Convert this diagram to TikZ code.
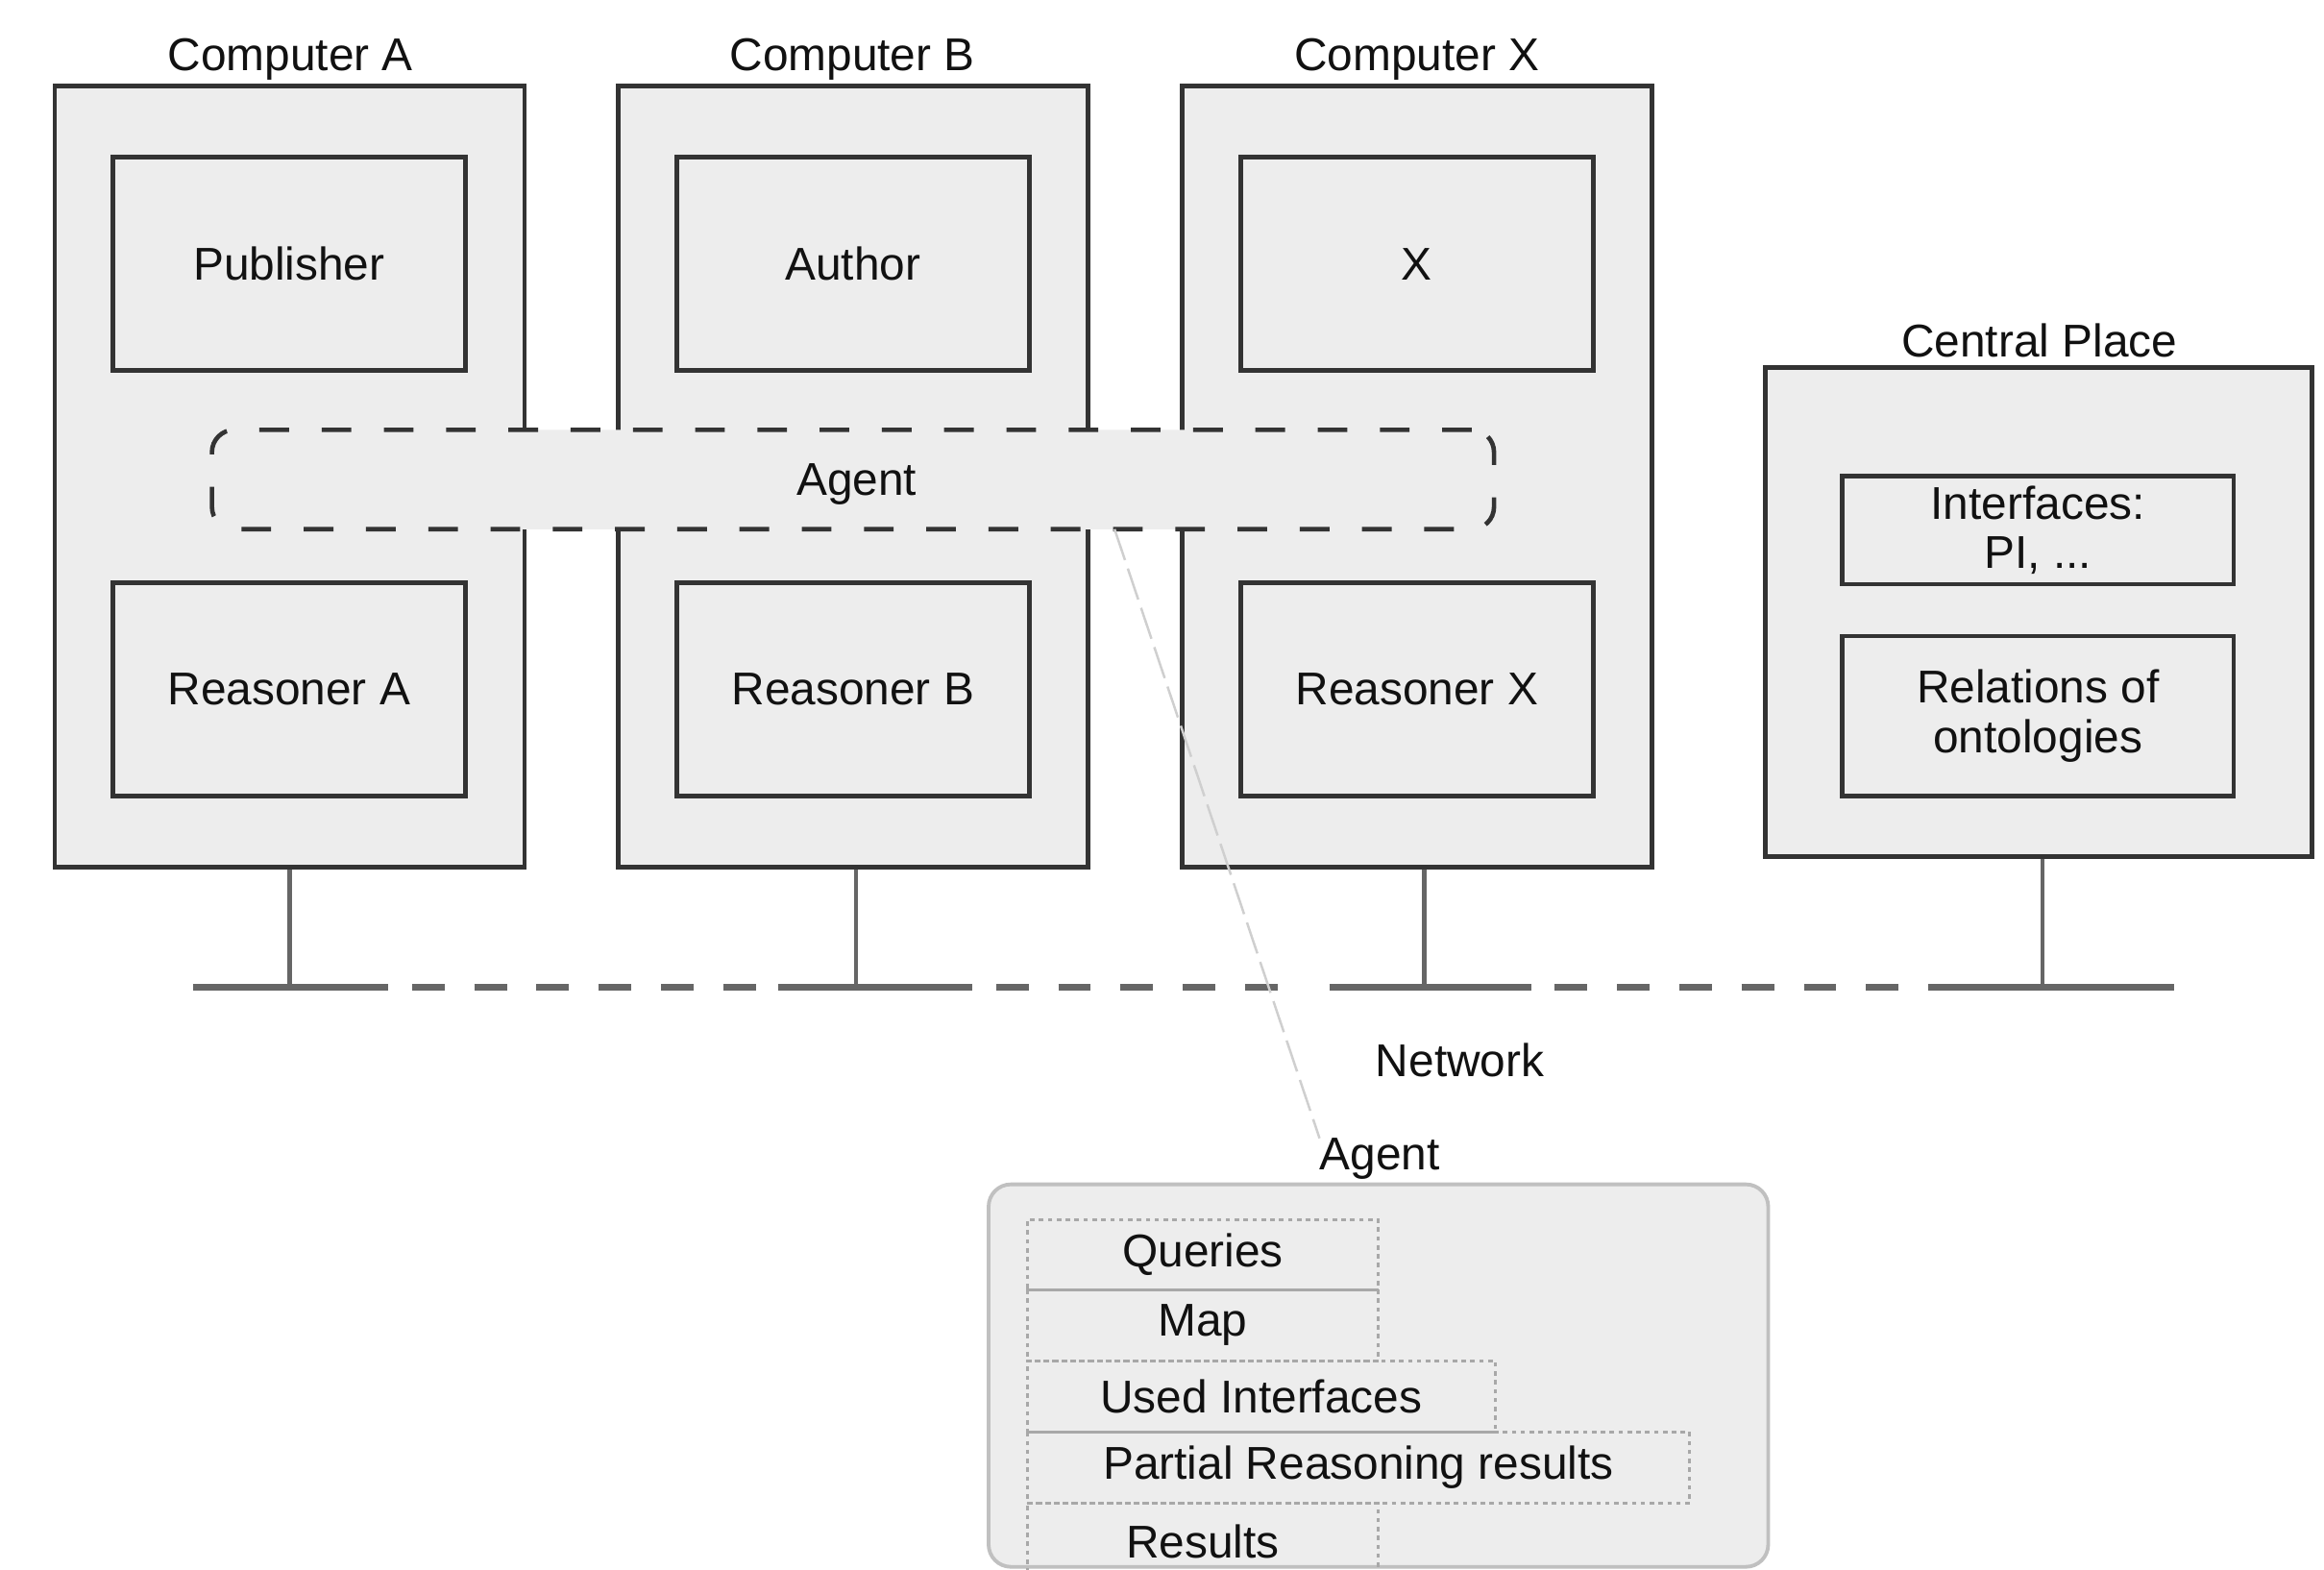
\documentclass[tikz,border=0pt]{standalone}
\usepackage{fontspec}
\setmainfont{Liberation Sans}
\definecolor{boxfill}{HTML}{EDEDED}
\definecolor{boxline}{HTML}{333333}
\definecolor{netcol}{HTML}{666666}
\definecolor{txtcol}{HTML}{111111}
\definecolor{agentline}{HTML}{C0C0C0}
\definecolor{dotcol}{HTML}{A8A8A8}
\definecolor{diagcol}{HTML}{CFCFCF}

\begin{document}
\begin{tikzpicture}[x=1pt,y=-1pt,
  every node/.style={font=\fontsize{31}{35}\selectfont, text=txtcol, inner sep=0pt, align=center},
  compbox/.style={draw=boxline, line width=3pt, fill=boxfill, minimum width=317pt, minimum height=527pt},
  innerbox/.style={draw=boxline, line width=3pt, fill=boxfill, minimum width=238pt, minimum height=144pt},
  cpbox/.style={draw=boxline, line width=3pt, fill=boxfill, minimum width=264pt},
  band/.style={draw=boxline, line width=3pt, fill=boxfill, dash pattern=on 20pt off 22pt, rounded corners=15pt, minimum width=865pt, minimum height=67pt},
  netsolid/.style={draw=netcol, line width=4.5pt},
  netdash/.style={draw=netcol, line width=4.5pt, dash pattern=on 22pt off 20pt},
  drop/.style={draw=netcol, line width=3pt},
  agentbox/.style={draw=agentline, line width=2.5pt, fill=boxfill, rounded corners=15pt, minimum width=526pt, minimum height=258pt},
  slot/.style={draw=dotcol, line width=1.8pt, dash pattern=on 3pt off 3pt, minimum height=48pt},
  diag/.style={draw=diagcol, line width=1.6pt, dash pattern=on 22pt off 6pt}
]
\useasboundingbox (0,0) rectangle (1568,1059);
\fill[white] (0,0) rectangle (1568,1059);
\clip (0,0) rectangle (1568,1059);

% computers
\node[compbox] (compA) at (195.5,321.5) {};
\node[compbox] (compB) at (575.5,321.5) {};
\node[compbox] (compX) at (956,321.5) {};
\node (lblA) at (196,40) {Computer A};
\node (lblB) at (575,40) {Computer B};
\node (lblX) at (956,40) {Computer X};

\node[innerbox] (pub) at (195,178) {Publisher};
\node[innerbox] (reaA) at (195,465) {Reasoner A};
\node[innerbox] (auth) at (575.5,178) {Author};
\node[innerbox] (reaB) at (575.5,465) {Reasoner B};
\node[innerbox] (xx) at (956,178) {X};
\node[innerbox] (reaX) at (956,465) {Reasoner X};

% agent band
\node[band] (band) at (575.5,323.5) {};
\node (bandlbl) at (578,327) {Agent};

% central place
\node[compbox, minimum width=369pt, minimum height=330pt] (central) at (1375.5,413) {};
\node (lblC) at (1376,230) {Central Place};
\node[cpbox, minimum height=73pt] (iface) at (1375,357.5) {Interfaces:\\[-2pt]PI, ...};
\node[cpbox, minimum height=108pt] (rel) at (1375,483) {Relations of\\[-1pt]ontologies};

% network
\coordinate (netL) at (130,666);
\coordinate (netR) at (1467,666);
\draw[drop] ([xshift=2pt]compB.south) -- ([xshift=2pt]compB.south |- netL);
\draw[drop] (compA.south) -- (compA.south |- netL);
\draw[drop] ([xshift=5pt]compX.south) -- ([xshift=5pt]compX.south |- netL);
\draw[drop] ([xshift=2.5pt]central.south) -- ([xshift=2.5pt]central.south |- netL);
\coordinate (s1) at (262,666);
\coordinate (s2) at (525,666);
\coordinate (s3) at (656,666);
\coordinate (s4) at (866,666);
\coordinate (s5) at (897,666);
\coordinate (s6) at (1033,666);
\coordinate (s7) at (1310,666);
\draw[netsolid] (netL) -- (s1);
\draw[netsolid] (s2) -- (s3);
\draw[netsolid] (s5) -- (s6);
\draw[netsolid] (s7) -- (netR);
\draw[netdash, dash phase=-16pt] (s1) -- (s2);
\draw[netdash, dash phase=-16pt] (s3) -- (s4);
\draw[netdash, dash phase=-16pt] (s6) -- (s7);
\node (netlbl) at (985,715) {Network};

% bottom agent
\node (agentlbl) at (931,782) {Agent};
\node[agentbox] (agent) at (930,928) {};
\node[slot, minimum width=237pt, minimum height=47pt] (q) at (811.5,846.5) {\raisebox{-3pt}{Queries}};
\node[slot, minimum width=237pt] (map) at (811.5,894) {\raisebox{-2pt}{Map}};
\node[slot, minimum width=316pt] (used) at (851,942) {Used Interfaces};
\node[slot, minimum width=447pt] (part) at (916.5,990) {\raisebox{-3pt}{Partial Reasoning results}};
\node[slot, minimum width=237pt, minimum height=52pt] (res) at (811.5,1040) {\raisebox{-1pt}{Results}};

% diagonal link
\coordinate (dtop) at (752,357);
\draw[diag] (dtop) -- (agentlbl.north west);
\end{tikzpicture}
\end{document}
